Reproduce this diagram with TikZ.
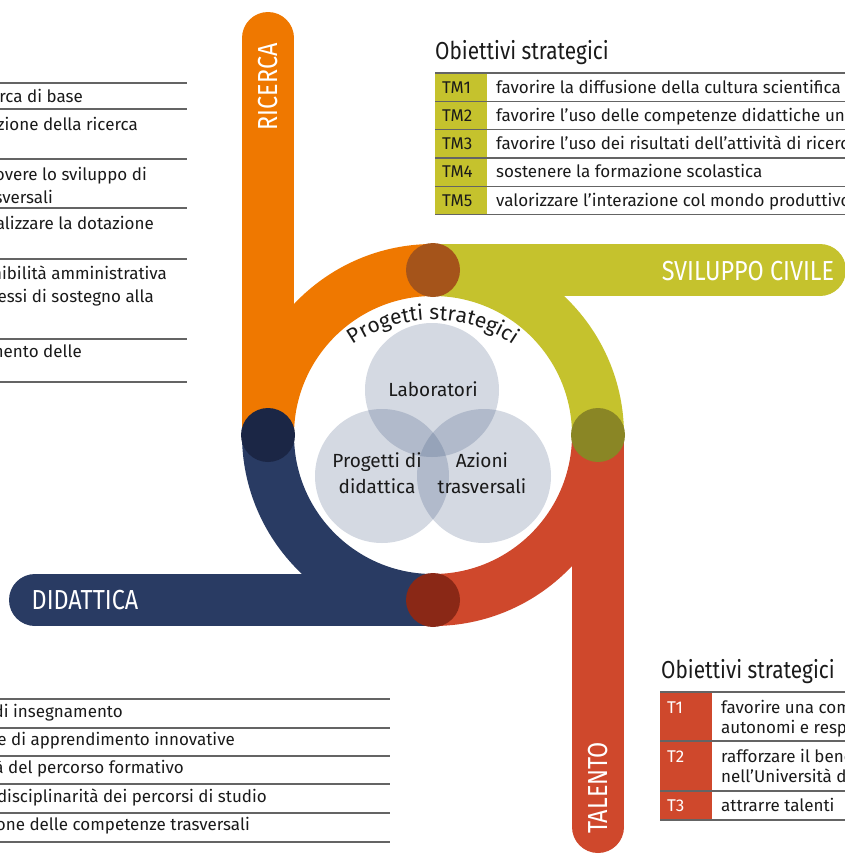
\documentclass[tikz,border=0pt]{standalone}
\usepackage{fontspec}
\setmainfont{Fira Sans}
\newfontfamily\bandfont{Fira Sans}[FakeStretch=0.85]
\usetikzlibrary{decorations.text}

\definecolor{ricerca}{RGB}{239,120,0}
\definecolor{sviluppo}{RGB}{197,194,45}
\definecolor{talento}{RGB}{207,72,44}
\definecolor{didattica}{RGB}{41,59,99}
\definecolor{ricercaJoint}{RGB}{165,84,26}
\definecolor{sviluppoJoint}{RGB}{138,134,37}
\definecolor{talentoJoint}{RGB}{138,40,22}
\definecolor{didatticaJoint}{RGB}{27,38,69}
\definecolor{vennblue}{RGB}{50,74,117}
\definecolor{ink}{RGB}{26,26,26}
\definecolor{rulegray}{RGB}{100,100,100}

\tikzset{
  band/.style={line width=52pt, line cap=butt},
  joint/.style={circle, inner sep=0pt, minimum size=54pt},
  venncircle/.style={circle, inner sep=0pt, minimum size=134pt, fill=vennblue, fill opacity=0.21},
  venntext/.style={font=\fontsize{19}{26}\selectfont, align=center, text=ink},
  bandtext/.style={font=\bandfont\fontsize{27.5}{30}\selectfont, text=white, inner sep=0pt},
  headtext/.style={font=\bandfont\fontsize{24.5}{28}\selectfont, text=ink, inner sep=0pt},
  goaltext/.style={font=\fontsize{17}{20}\selectfont, text=ink, inner sep=0pt},
  rowrule/.style={draw=rulegray, line width=1.2pt},
}

\begin{document}
\begin{tikzpicture}[x=1pt,y=1pt,yscale=-1]
	\useasboundingbox (0,0) rectangle (845,854);
	\clip (0,0) rectangle (845,854);

	%Band: ricerca
	\draw [band, ricerca] (268,435) -- (268,38) ;
	\fill [ricerca] (268,38) circle (26) ;
	\draw [band, ricerca] (268,435) arc (180:270:165) ;
	%Band: sviluppo civile
	\draw [band, sviluppo] (433,270) -- (820,270) ;
	\fill [sviluppo] (820,270) circle (26) ;
	\draw [band, sviluppo] (433,270) arc (270:360:165) ;
	%Band: talento
	\draw [band, talento] (598,435) -- (598,827) ;
	\fill [talento] (598,827) circle (26) ;
	\draw [band, talento] (598,435) arc (0:90:165) ;
	%Band: didattica
	\draw [band, didattica] (433,600) -- (35,600) ;
	\fill [didattica] (35,600) circle (26) ;
	\draw [band, didattica] (433,600) arc (90:180:165) ;

	%Joints between the bands
	\node [joint, fill=ricercaJoint] (joint top) at (433,270) {};
	\node [joint, fill=didatticaJoint] (joint left) at (268,435) {};
	\node [joint, fill=sviluppoJoint] (joint right) at (598,435) {};
	\node [joint, fill=talentoJoint] (joint bottom) at (433,600) {};

	% Band labels
	\node [bandtext, rotate=90] (ricerca label) at (268,87) {RICERCA};
	\node [bandtext] (sviluppo label) at (748,271) {SVILUPPO CIVILE};
	\node [bandtext] (didattica label) at (85,600) {DIDATTICA};
	\node [bandtext, rotate=90] (talento label) at (598,788) {TALENTO};

	%Venn of the projects
	\node [venncircle] (laboratori) at (432,390) {};
	\node [venncircle] (progetti) at (382,476) {};
	\node [venncircle] (azioni) at (484,476) {};
	\node [venntext] (laboratori text) at (433,389) {Laboratori};
	\node [venntext] (progetti text) at (377,473) {Progetti di\\didattica};
	\node [venntext] (azioni text) at (482,473) {Azioni\\trasversali};

	% Curved title
	\begin{scope}[yscale=-1]
		\path [decorate, decoration={text along path, text align=center,
			text={|\color{ink}\fontsize{21}{24}\selectfont|Progetti strategici}}]
			(433,-462) ++(145:142) arc (145:35:142) ;
	\end{scope}

	%Table: obiettivi TM
	\node [headtext, anchor=base west] (tm heading) at (435,59) {Obiettivi strategici};
	\fill [sviluppo] (435,73) rectangle (487,214.5) ;
	\draw [rowrule] (435,73) -- (845,73) ;
	\draw [rowrule] (435,101.3) -- (845,101.3) ;
	\draw [rowrule] (435,129.6) -- (845,129.6) ;
	\draw [rowrule] (435,157.9) -- (845,157.9) ;
	\draw [rowrule] (435,186.2) -- (845,186.2) ;
	\draw [rowrule] (435,214.5) -- (845,214.5) ;
	\node [goaltext, anchor=base west] (tm1) at (442,93) {TM1};
	\node [goaltext, anchor=base west] (tm1 text) at (496,93) {favorire la diffusione della cultura scientifica};
	\node [goaltext, anchor=base west] (tm2) at (442,121.3) {TM2};
	\node [goaltext, anchor=base west] (tm2 text) at (496,121.3) {favorire l’uso delle competenze didattiche universitarie};
	\node [goaltext, anchor=base west] (tm3) at (442,149.6) {TM3};
	\node [goaltext, anchor=base west] (tm3 text) at (496,149.6) {favorire l’uso dei risultati dell’attività di ricerca};
	\node [goaltext, anchor=base west] (tm4) at (442,177.9) {TM4};
	\node [goaltext, anchor=base west] (tm4 text) at (496,177.9) {sostenere la formazione scolastica};
	\node [goaltext, anchor=base west] (tm5) at (442,206.2) {TM5};
	\node [goaltext, anchor=base west] (tm5 text) at (496,206.2) {valorizzare l’interazione col mondo produttivo};

	%Table: obiettivi T
	\node [headtext, anchor=base west] (t heading) at (661,678) {Obiettivi strategici};
	\fill [talento] (660,692) rectangle (712,820) ;
	\draw [rowrule] (660,692) -- (845,692) ;
	\draw [rowrule] (660,741) -- (845,741) ;
	\draw [rowrule] (660,791) -- (845,791) ;
	\draw [rowrule] (660,820) -- (845,820) ;
	\node [goaltext, text=white, anchor=base west] (t1) at (667,713) {T1};
	\node [goaltext, anchor=base west] (t1 text a) at (721,713) {favorire una comunità};
	\node [goaltext, anchor=base west] (t1 text b) at (721,733) {autonomi e responsabili};
	\node [goaltext, text=white, anchor=base west] (t2) at (667,762) {T2};
	\node [goaltext, anchor=base west] (t2 text a) at (721,762) {rafforzare il benessere};
	\node [goaltext, anchor=base west] (t2 text b) at (721,782) {nell’Università di};
	\node [goaltext, text=white, anchor=base west] (t3) at (667,811) {T3};
	\node [goaltext, anchor=base west] (t3 text) at (721,811) {attrarre talenti};

	%Table: obiettivi ricerca
	\draw [rowrule] (0,83) -- (187,83) ;
	\draw [rowrule] (0,109) -- (187,109) ;
	\draw [rowrule] (0,159) -- (187,159) ;
	\draw [rowrule] (0,208) -- (187,208) ;
	\draw [rowrule] (0,259) -- (187,259) ;
	\draw [rowrule] (0,339) -- (187,339) ;
	\draw [rowrule] (0,382) -- (187,382) ;
	\node [goaltext, anchor=base east] (r1 text) at (83,102) {ricerca di base};
	\node [goaltext, anchor=base east] (r2 text) at (138,130) {valorizzazione della ricerca};
	\node [goaltext, anchor=base east] (r3 text a) at (147,180) {promuovere lo sviluppo di};
	\node [goaltext, anchor=base east] (r3 text b) at (53,203) {trasversali};
	\node [goaltext, anchor=base east] (r4 text) at (154,229) {razionalizzare la dotazione};
	\node [goaltext, anchor=base east] (r5 text a) at (167,279) {sostenibilità amministrativa};
	\node [goaltext, anchor=base east] (r5 text b) at (154,302) {processi di sostegno alla};
	\node [goaltext, anchor=base east] (r6 text) at (82,357) {miglioramento delle};

	%Table: obiettivi didattica
	\draw [rowrule] (0,699) -- (390,699) ;
	\draw [rowrule] (0,728) -- (390,728) ;
	\draw [rowrule] (0,756) -- (390,756) ;
	\draw [rowrule] (0,784) -- (390,784) ;
	\draw [rowrule] (0,813) -- (390,813) ;
	\draw [rowrule] (0,842) -- (390,842) ;
	\node [goaltext, anchor=base east] (d1 text) at (123,717) {di insegnamento};
	\node [goaltext, anchor=base east] (d2 text) at (235,745) {forme di apprendimento innovative};
	\node [goaltext, anchor=base east] (d3 text) at (184,773) {qualità del percorso formativo};
	\node [goaltext, anchor=base east] (d4 text) at (267,802) {interdisciplinarità dei percorsi di studio};
	\node [goaltext, anchor=base east] (d5 text) at (250,830) {formazione delle competenze trasversali};

\end{tikzpicture}
\end{document}
